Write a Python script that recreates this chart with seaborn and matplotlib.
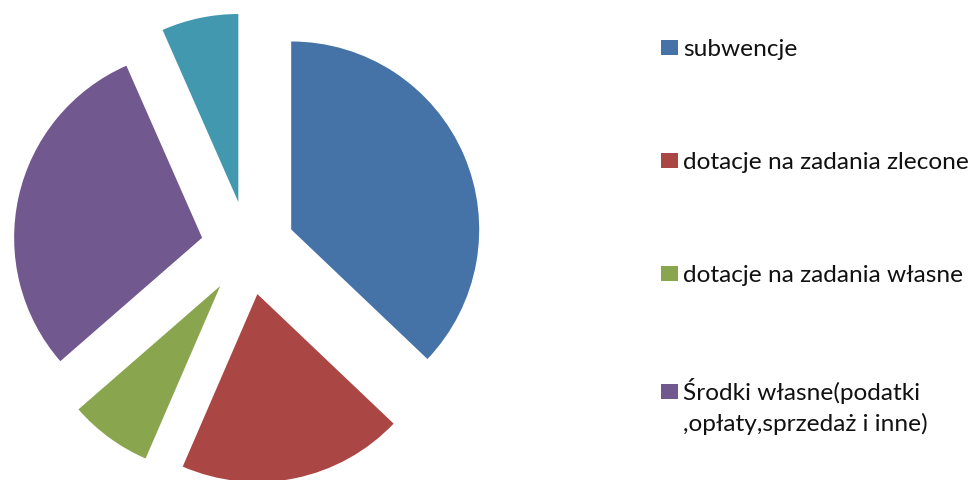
import matplotlib
matplotlib.use("Agg")
import matplotlib.pyplot as plt
import seaborn as sns

# values (shares in %)
categories = ["subwencje", "dotacje na zadania zlecone", "dotacje na zadania własne",
              "Środki własne(podatki", ""]
label_tail = ",opłaty,sprzedaż i inne)"  # second line of the 4th legend entry
shares = [37.1, 19.4, 7.1, 29.8, 6.6]
colors = ["#4572A7", "#AA4643", "#89A54E", "#71588F", "#4198AF"]

sns.set_theme(style="white")
plt.rcParams['font.family'] = ['Lato', 'DejaVu Sans']

W, H = 974, 480
fig = plt.figure(figsize=(W / 100, H / 100), dpi=100)

# pie: centre at (248, 248) px, radius 188 px
r_px = 188
lim = 1.3
side = 2 * lim * r_px
cx, cy = 248, H - 248
ax = fig.add_axes([(cx - side / 2) / W, (cy - side / 2) / H, side / W, side / H])

wedges, _ = ax.pie(shares, colors=sns.color_palette(colors), startangle=90, counterclock=False,
                   explode=[0.25] * len(shares), radius=1, wedgeprops=dict(linewidth=0))
ax.set_xlim(-lim, lim)
ax.set_ylim(-lim, lim)
ax.set_aspect("equal")
ax.axis("off")

fs = 17.6
leg = fig.legend(wedges[:4], categories[:4], loc="upper left", bbox_to_anchor=(661 / W, 1 - 39 / H),
                 frameon=False, fontsize=fs, labelspacing=3.76, handlelength=0.7, handleheight=0.57,
                 handletextpad=0.22, borderpad=0, borderaxespad=0)
for t in leg.get_texts():
    t.set_color("#111111")

# second line of the last entry, right under its first line
fig.canvas.draw()
bb = leg.get_texts()[3].get_window_extent()
fig.text(bb.x0 / W, (bb.y0 - 9) / H, label_tail, fontsize=fs, color="#111111",
         ha="left", va="top")

fig.savefig("out.png", dpi=100)
